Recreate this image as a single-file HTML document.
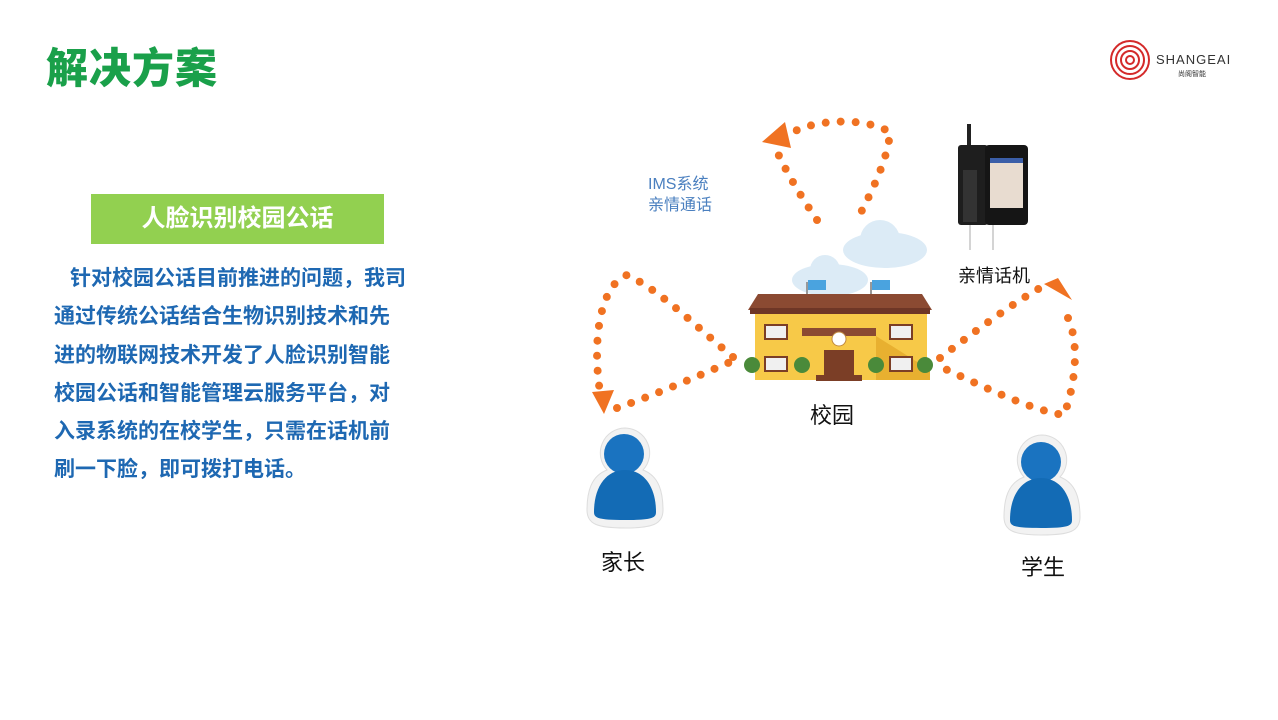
<!DOCTYPE html>
<html><head><meta charset="utf-8"><style>
html,body{margin:0;padding:0;background:#fff;}
body{width:1278px;height:720px;position:relative;overflow:hidden;font-family:"Liberation Sans","Noto Sans CJK SC",sans-serif;}
.t{position:absolute;white-space:nowrap;}
</style></head><body>
<div class="t" style="left:46px;top:42px;font-size:42px;font-weight:900;color:#1aa04a;letter-spacing:1px;line-height:54px;">解决方案</div>
<div style="position:absolute;left:91px;top:194px;width:293px;height:50px;background:#92d050;"></div>
<div class="t" style="left:91px;top:194px;width:293px;text-align:center;font-size:24px;font-weight:bold;color:#fff;line-height:50px;">人脸识别校园公话</div>
<div class="t" style="left:54px;top:260px;font-size:21px;font-weight:bold;color:#1e68b2;line-height:38.3px;">
<span style="display:inline-block;width:16px"></span>针对校园公话目前推进的问题<span style="display:inline-block;width:21px">，</span>我司<br>通过传统公话结合生物识别技术和先<br>进的物联网技术开发了人脸识别智能<br>校园公话和智能管理云服务平台<span style="display:inline-block;width:21px">，</span>对<br>入录系统的在校学生<span style="display:inline-block;width:21px">，</span>只需在话机前<br>刷一下脸<span style="display:inline-block;width:21px">，</span>即可拨打电话。</div>

<svg style="position:absolute;left:0;top:0" width="1278" height="720">
<g fill="none" stroke="#d42a2a" stroke-width="2">
<circle cx="1130" cy="60" r="19"/><circle cx="1130" cy="60" r="14"/><circle cx="1130" cy="60" r="9"/><circle cx="1130" cy="60" r="4"/>
</g>
<text x="1156" y="64" font-family="Liberation Sans" font-size="13" fill="#333" letter-spacing="1">SHANGEAI</text>
<text x="1178" y="76" font-family="Noto Sans CJK SC" font-size="7" fill="#333">尚阁智能</text>

<g fill="#dcebf6">
<ellipse cx="885" cy="250" rx="42" ry="18"/><circle cx="880" cy="240" r="20"/><circle cx="905" cy="250" r="15"/>
<ellipse cx="830" cy="280" rx="38" ry="16"/><circle cx="825" cy="270" r="15"/>
</g>
<line x1="807" y1="282" x2="807" y2="330" stroke="#999" stroke-width="2"/>
<line x1="871" y1="282" x2="871" y2="330" stroke="#999" stroke-width="2"/>
<rect x="808" y="280" width="18" height="10" fill="#4aa3df"/>
<rect x="872" y="280" width="18" height="10" fill="#4aa3df"/>
<rect x="755" y="312" width="172" height="68" fill="#f7c948"/>
<polygon points="748,310 758,294 922,294 932,310" fill="#8b4a32"/>
<rect x="750" y="308" width="180" height="6" fill="#6e3626"/>
<rect x="802" y="328" width="74" height="8" fill="#8b4a32"/>
<polygon points="876,336 930,370 930,380 876,380" fill="#e8b030"/>
<circle cx="839" cy="339" r="7" fill="#fff" stroke="#c08a40"/>
<rect x="824" y="350" width="30" height="26" fill="#7b3e26"/>
<rect x="816" y="375" width="46" height="6" fill="#7b3e26"/>
<g fill="#f0f0f0" stroke="#7b3e26" stroke-width="2">
<rect x="765" y="325" width="22" height="14"/><rect x="890" y="325" width="22" height="14"/>
<rect x="765" y="357" width="22" height="14"/><rect x="890" y="357" width="22" height="14"/>
</g>
<g fill="#4a8a3a"><circle cx="752" cy="365" r="8"/><circle cx="802" cy="365" r="8"/><circle cx="876" cy="365" r="8"/><circle cx="925" cy="365" r="8"/></g>

<line x1="969" y1="124" x2="969" y2="148" stroke="#222" stroke-width="4"/>
<rect x="958" y="145" width="30" height="80" rx="3" fill="#1e1e1e"/>
<rect x="985" y="145" width="43" height="80" rx="4" fill="#151515"/>
<rect x="963" y="170" width="14" height="52" fill="#333"/>
<rect x="990" y="158" width="33" height="50" fill="#e8dcd0"/>
<rect x="990" y="158" width="33" height="5" fill="#3b5ea8"/>
<line x1="970" y1="225" x2="970" y2="250" stroke="#aaa"/><line x1="993" y1="225" x2="993" y2="250" stroke="#aaa"/>

<g fill="none" stroke="#f07222" stroke-width="8" stroke-linecap="round" stroke-dasharray="0 15">
<path d="M817,220 C800,195 785,170 775,147"/>
<path d="M784,138 C805,120 860,115 890,132 C888,160 870,195 857,220"/>
<path d="M733,357 C700,330 660,290 627,275 C600,285 592,340 600,392"/>
<path d="M617,408 C655,395 700,375 735,360"/>
<path d="M940,358 C970,335 1010,305 1040,288"/>
<path d="M1068,318 C1080,345 1075,385 1064,415 C1030,410 980,385 943,368"/>
</g>
<g fill="#f07222">
<polygon points="762,142 785,122 791,148"/>
<polygon points="592,392 614,390 604,414"/>
<polygon points="1044,284 1058,278 1072,300"/>
</g>

<g>
<path d="M625,428 a25,25 0 0 1 18,42 c16,6 20,22 20,40 c0,14 -10,18 -38,18 c-28,0 -38,-4 -38,-18 c0,-18 4,-34 20,-40 a25,25 0 0 1 18,-42z" fill="#f2f2f2" stroke="#ddd"/>
<circle cx="624" cy="454" r="20" fill="#1a73c0"/>
<path d="M594,512 c0,-25 12,-42 31,-42 c19,0 31,17 31,42 c0,6 -4,8 -31,8 c-27,0 -31,-2 -31,-8z" fill="#136bb5"/>
<path d="M1042,435 a25,25 0 0 1 18,42 c16,6 20,22 20,40 c0,14 -10,18 -38,18 c-28,0 -38,-4 -38,-18 c0,-18 4,-34 20,-40 a25,25 0 0 1 18,-42z" fill="#f2f2f2" stroke="#ddd"/>
<circle cx="1041" cy="462" r="20" fill="#1a73c0"/>
<path d="M1010,520 c0,-25 12,-42 31,-42 c19,0 31,17 31,42 c0,6 -4,8 -31,8 c-27,0 -31,-2 -31,-8z" fill="#136bb5"/>
</g>
</svg>
<div class="t" style="left:648px;top:174px;font-size:16px;color:#4a7fbf;line-height:21px;">IMS系统<br>亲情通话</div>
<div class="t" style="left:958px;top:262px;font-size:18px;color:#111;">亲情话机</div>
<div class="t" style="left:810px;top:398px;font-size:22px;color:#111;">校园</div>
<div class="t" style="left:601px;top:545px;font-size:22px;color:#111;">家长</div>
<div class="t" style="left:1021px;top:550px;font-size:22px;color:#111;">学生</div>
</body></html>
